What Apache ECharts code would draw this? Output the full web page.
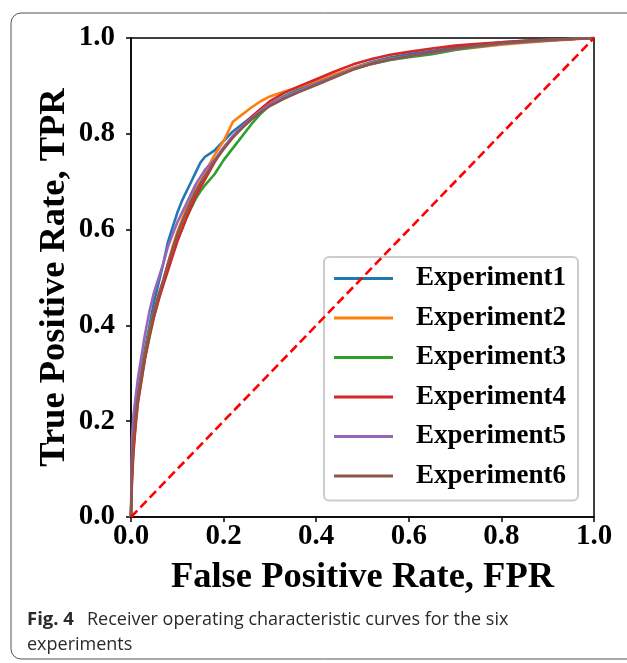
<!DOCTYPE html>
<html>
<head>
<meta charset="utf-8">
<script src="https://cdn.jsdelivr.net/npm/echarts@6/dist/echarts.min.js"></script>
<style>
html,body{margin:0;padding:0;background:#fff;}
#chart{width:627px;height:663px;}
</style>
</head>
<body>
<div id="chart"></div>
<script>
// ---- data ----
const fpr = [0, 0.002, 0.005, 0.01, 0.015, 0.02, 0.025, 0.03, 0.04, 0.05, 0.06, 0.07, 0.08, 0.09, 0.10, 0.11, 0.12, 0.13, 0.14, 0.15, 0.16, 0.18, 0.20, 0.22, 0.24, 0.26, 0.28, 0.30, 0.33, 0.36, 0.40, 0.44, 0.48, 0.52, 0.56, 0.60, 0.65, 0.70, 0.75, 0.80, 0.85, 0.90, 0.95, 1.0];
const tpr1 = [0, 0.12, 0.17, 0.22, 0.26, 0.29, 0.32, 0.35, 0.40, 0.45, 0.49, 0.53, 0.575, 0.605, 0.635, 0.66, 0.68, 0.70, 0.72, 0.74, 0.752, 0.765, 0.785, 0.805, 0.82, 0.835, 0.85, 0.862, 0.878, 0.892, 0.908, 0.922, 0.938, 0.95, 0.959, 0.966, 0.973, 0.98, 0.986, 0.991, 0.994, 0.996, 0.998, 1];
const tpr2 = [0, 0.09, 0.15, 0.20, 0.25, 0.28, 0.31, 0.34, 0.39, 0.43, 0.465, 0.495, 0.53, 0.565, 0.595, 0.62, 0.645, 0.665, 0.685, 0.70, 0.72, 0.755, 0.785, 0.825, 0.84, 0.855, 0.868, 0.878, 0.888, 0.897, 0.91, 0.924, 0.938, 0.948, 0.956, 0.962, 0.969, 0.976, 0.981, 0.986, 0.99, 0.994, 0.997, 1];
const tpr3 = [0, 0.08, 0.14, 0.20, 0.24, 0.27, 0.30, 0.33, 0.375, 0.42, 0.455, 0.49, 0.52, 0.55, 0.58, 0.60, 0.625, 0.645, 0.665, 0.68, 0.693, 0.715, 0.745, 0.77, 0.795, 0.82, 0.842, 0.86, 0.877, 0.89, 0.905, 0.92, 0.935, 0.946, 0.954, 0.96, 0.966, 0.975, 0.982, 0.988, 0.992, 0.995, 0.998, 1];
const tpr4 = [0, 0.07, 0.13, 0.19, 0.24, 0.27, 0.30, 0.33, 0.38, 0.42, 0.455, 0.485, 0.515, 0.545, 0.575, 0.60, 0.625, 0.648, 0.67, 0.688, 0.705, 0.74, 0.77, 0.795, 0.815, 0.835, 0.852, 0.868, 0.885, 0.898, 0.914, 0.93, 0.945, 0.956, 0.965, 0.971, 0.978, 0.984, 0.988, 0.991, 0.994, 0.996, 0.998, 1];
const tpr5 = [0, 0.16, 0.21, 0.25, 0.29, 0.32, 0.35, 0.38, 0.43, 0.47, 0.50, 0.53, 0.565, 0.59, 0.615, 0.635, 0.655, 0.675, 0.695, 0.71, 0.725, 0.745, 0.772, 0.795, 0.815, 0.832, 0.848, 0.862, 0.876, 0.889, 0.905, 0.92, 0.936, 0.947, 0.955, 0.962, 0.969, 0.977, 0.983, 0.988, 0.992, 0.995, 0.998, 1];
const tpr6 = [0, 0.10, 0.16, 0.21, 0.25, 0.28, 0.31, 0.34, 0.385, 0.43, 0.465, 0.495, 0.53, 0.56, 0.59, 0.615, 0.638, 0.66, 0.68, 0.697, 0.712, 0.742, 0.768, 0.792, 0.812, 0.83, 0.845, 0.858, 0.873, 0.886, 0.902, 0.918, 0.934, 0.946, 0.955, 0.962, 0.97, 0.978, 0.984, 0.989, 0.993, 0.996, 0.998, 1];
const seriesNames = ['Experiment1', 'Experiment2', 'Experiment3', 'Experiment4', 'Experiment5', 'Experiment6'];
const diagX = [0, 1];
const diagY = [0, 1];
const xTicks = [0, 0.2, 0.4, 0.6, 0.8, 1.0];
const yTicks = [0, 0.2, 0.4, 0.6, 0.8, 1.0];
const xTitle = 'False Positive Rate, FPR';
const yTitle = 'True Positive Rate, TPR';
const captionBold = 'Fig. 4';
const captionLine1 = 'Receiver operating characteristic curves for the six';
const captionLine2 = 'experiments';

// ---- styles ----
const colors = ['#1f77b4', '#ff7f0e', '#2ca02c', '#d62728', '#9467bd', '#8c564b'];
const serif = '"Liberation Serif", "Times New Roman", serif';
const capFont = '"Open Sans", sans-serif';
const tprs = [tpr1, tpr2, tpr3, tpr4, tpr5, tpr6];

const chart = echarts.init(document.getElementById('chart'), null, {renderer: 'canvas'});

const lineSeries = seriesNames.map((name, i) => ({
  name: name,
  type: 'line',
  data: fpr.map((x, j) => [x, tprs[i][j]]),
  showSymbol: false,
  symbol: 'none',
  smooth: false,
  lineStyle: {color: colors[i], width: 2.6},
  itemStyle: {color: colors[i]},
  z: 3 + i
}));

const diagSeries = {
  name: 'chance',
  type: 'line',
  data: diagX.map((x, j) => [x, diagY[j]]),
  showSymbol: false,
  symbol: 'none',
  lineStyle: {color: '#ff0000', width: 2.6, type: [9, 4.5]},
  z: 10
};

chart.setOption({
  backgroundColor: '#ffffff',
  animation: false,
  grid: {left: 131, top: 38, width: 463, height: 479, show: true, borderColor: '#000', borderWidth: 1.5, backgroundColor: 'transparent'},
  xAxis: {
    type: 'value', min: 0, max: 1, interval: 0.2,
    axisLine: {show: true, onZero: false, lineStyle: {color: '#000', width: 1.5}},
    axisTick: {show: true, inside: false, length: 5, lineStyle: {color: '#000', width: 1.5}},
    splitLine: {show: false},
    axisLabel: {
      color: '#000', fontFamily: serif, fontWeight: 'bold', fontSize: 29, margin: 5,
      formatter: v => (xTicks.some(t => Math.abs(t - v) < 1e-9) ? v.toFixed(1) : '')
    }
  },
  yAxis: {
    type: 'value', min: 0, max: 1, interval: 0.2,
    axisLine: {show: true, onZero: false, lineStyle: {color: '#000', width: 1.5}},
    axisTick: {show: true, inside: false, length: 5, lineStyle: {color: '#000', width: 1.5}},
    splitLine: {show: false},
    axisLabel: {
      color: '#000', fontFamily: serif, fontWeight: 'bold', fontSize: 29, margin: 16,
      formatter: v => (yTicks.some(t => Math.abs(t - v) < 1e-9) ? v.toFixed(1) : '')
    }
  },
  legend: {
    data: seriesNames,
    orient: 'vertical',
    left: 324, top: 257,
    padding: [8, 12, 11, 10],
    itemGap: 12.5,
    itemWidth: 59, itemHeight: 3,
    icon: 'rect',
    backgroundColor: 'rgba(255,255,255,0.8)',
    borderColor: '#cccccc', borderWidth: 2, borderRadius: 5,
    textStyle: {color: '#000', fontFamily: serif, fontWeight: 'bold', fontSize: 27, lineHeight: 27, padding: [0, 0, 0, 18]}
  },
  series: [...lineSeries, diagSeries],
  graphic: [
    {type: 'rect', shape: {x: 11, y: 13, width: 640, height: 646, r: 10}, style: {fill: 'none', stroke: '#555', lineWidth: 1}, silent: true, z: 0},
    {type: 'text', x: 362.5, y: 578, style: {text: xTitle, font: 'bold 36.5px ' + serif, fill: '#000', textAlign: 'center', textVerticalAlign: 'middle'}},
    {type: 'text', x: 55, y: 277.5, rotation: Math.PI / 2, style: {text: yTitle, font: 'bold 36.5px ' + serif, fill: '#000', textAlign: 'center', textVerticalAlign: 'middle'}},
    {type: 'text', x: 27, y: 620, style: {text: captionBold, font: 'bold 18.5px ' + capFont, fill: '#2a2a2a', textAlign: 'left', textVerticalAlign: 'middle'}},
    {type: 'text', x: 87, y: 620, style: {text: captionLine1, font: '18px ' + capFont, fill: '#2a2a2a', textAlign: 'left', textVerticalAlign: 'middle'}},
    {type: 'text', x: 27, y: 645, style: {text: captionLine2, font: '18px ' + capFont, fill: '#2a2a2a', textAlign: 'left', textVerticalAlign: 'middle'}}
  ]
});
</script>
</body>
</html>
